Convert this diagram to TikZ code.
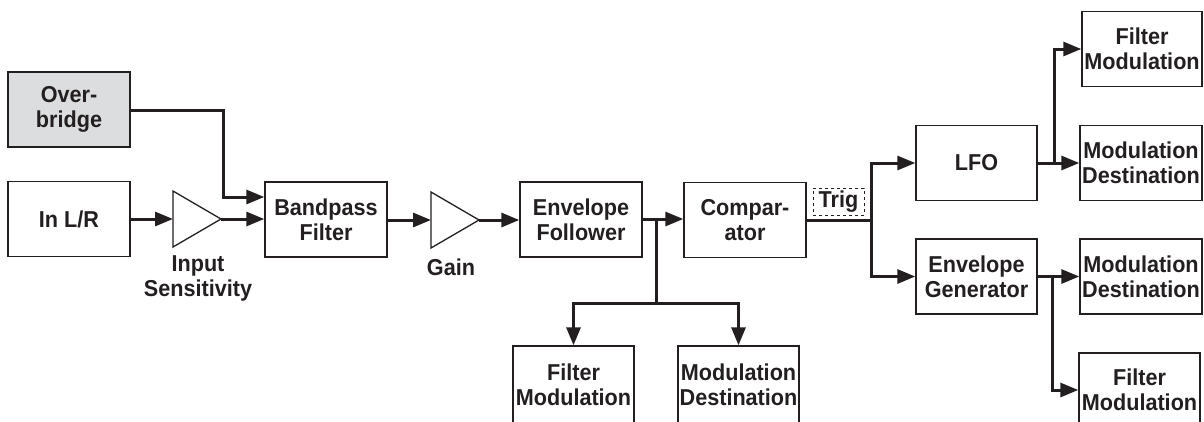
\documentclass[tikz,border=0pt]{standalone}
\usepackage{fontspec}
\setmainfont{Liberation Sans}[FakeStretch=0.94]
\usetikzlibrary{arrows.meta,positioning}
\definecolor{ink}{HTML}{231F20}
\definecolor{boxgray}{HTML}{DCDDDE}
\tikzset{
  blk/.style={draw=ink, line width=1.4pt, minimum width=122pt, minimum height=75pt, inner sep=0pt, align=center, font=\bfseries\fontsize{23}{25}\selectfont, text=ink},
  lbl/.style={align=center, font=\bfseries\fontsize{23}{25}\selectfont, text=ink, inner sep=0pt},
  con/.style={draw=ink, line width=3pt, -{Triangle[length=18pt,width=14pt]}},
  wire/.style={draw=ink, line width=3pt},
  amp/.style={draw=ink, line width=1.3pt, fill=white},
}
\begin{document}
\begin{tikzpicture}[x=1pt,y=-1pt]
\useasboundingbox (0,0) rectangle (1204,421);
\clip (0,0) rectangle (1204,421);
% blocks
\node[blk, fill=boxgray] (ob) at (69,109.5) {Over-\\bridge};
\node[blk] (in) at (69,219) {In L/R};
\node[blk] (bp) at (326,219.5) {Bandpass\\Filter};
\node[blk] (ef) at (581,219.5) {Envelope\\Follower};
\node[blk] (cp) at (745,220) {Compar-\\ator};
\node[blk, minimum width=121pt] (lfo) at (976.5,163) {LFO};
\node[blk, minimum width=121pt] (eg) at (976.5,276.5) {Envelope\\Generator};
\node[blk, minimum width=120pt] (fm1) at (1142,49) {Filter\\Modulation};
\node[blk] (md1) at (1141,163) {Modulation\\Destination};
\node[blk] (md2) at (1141,276.5) {Modulation\\Destination};
\node[blk, minimum width=121pt, minimum height=80pt, text depth=0pt] (fm2) at (1139.5,393) {};
\node[lbl] (fm2t) at (1139.5,390) {Filter\\Modulation};
\node[blk, minimum width=121pt, minimum height=80pt] (fm3) at (573.5,386) {};
\node[lbl] (fm3t) at (573.5,385) {Filter\\Modulation};
\node[blk, minimum width=121pt, minimum height=80pt] (md3) at (738.5,386) {};
\node[lbl] (md3t) at (738.5,385) {Modulation\\Destination};
% trig
\node[draw=ink, dashed, line width=1pt, minimum width=51pt, minimum height=27pt, inner sep=0pt, font=\bfseries\fontsize{23}{25}\selectfont, text=ink] (trig) at (838.5,201.5) {Trig};
% amplifiers
\coordinate (t1a) at (173,191); \coordinate (t1b) at (173,247); \coordinate (t1o) at (221,219); \coordinate (t1i) at (173,219);
\draw[amp] (t1a) -- (t1o) -- (t1b) -- cycle;
\coordinate (t2a) at (431,192); \coordinate (t2b) at (431,248); \coordinate (t2o) at (479,220); \coordinate (t2i) at (431,220);
\draw[amp] (t2a) -- (t2o) -- (t2b) -- cycle;
\node[lbl] (insens) at (198,278) {Input\\Sensitivity};
\node[lbl] (gain) at (451,267) {Gain};
% connectors
\coordinate (obk) at (223,110);
\draw[con] (ob.east |- obk) -- (obk) |- (bp.west |- 0,197);
\draw[con] (in.east |- t1i) -- (t1i);
\draw[con] (t1o) -- (bp.west |- t1o);
\draw[con] (bp.east |- t2i) -- (t2i);
\draw[con] (t2o) -- (ef.west |- t2o);
\draw[con] (ef.east |- 0,219) -- (cp.west |- 0,219);
\coordinate (efb) at (656,219);
\coordinate (efd) at (656,303);
\draw[wire] (efb) -- (efd);
\draw[con] (efd) -| (fm3.north);
\draw[con] (efd) -| (md3.north);
\coordinate (trb) at (871,220);
\draw[wire] (cp.east |- trb) -- (trb);
\draw[con] (trb) |- (lfo.west);
\draw[con] (trb) |- (eg.west);
\coordinate (lfb) at (1054,163);
\draw[con] (lfo.east) -- (md1.west);
\draw[con] (lfb) |- (fm1.west);
\coordinate (egb) at (1052,276.5);
\draw[con] (eg.east) -- (md2.west);
\draw[con] (egb) |- (fm2.west |- 0,390);
\end{tikzpicture}
\end{document}
